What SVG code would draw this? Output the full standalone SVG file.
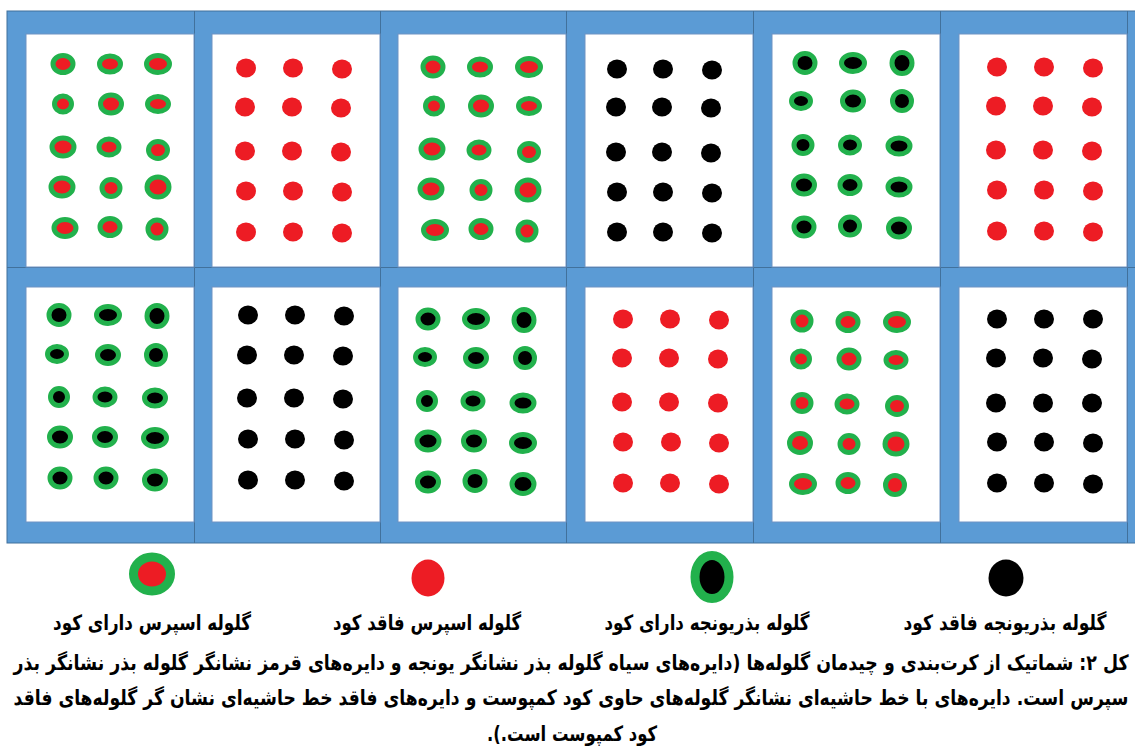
<svg xmlns="http://www.w3.org/2000/svg" width="1135" height="753" viewBox="0 0 1135 753">
<style>
.frame{fill:#5b9bd5;stroke:#41719c;stroke-width:1}
.plot{fill:#ffffff;stroke:#6f93c4;stroke-width:1}
.sep{stroke:#41719c;stroke-width:1;fill:none}
.gr{fill:#ed1c24;stroke:#22b14c;stroke-width:5}
.gb{fill:#000000;stroke:#22b14c;stroke-width:5}
.r{fill:#ed1c24}
.b{fill:#000000}
.lbl{font-family:"DejaVu Sans",sans-serif;font-weight:bold;font-size:16.8px;fill:#000}
.cap{font-family:"DejaVu Sans",sans-serif;font-weight:bold;font-size:17.2px;fill:#000}
</style>
<rect width="1135" height="753" fill="#ffffff"/>
<g id="frame">
<rect class="frame" x="7" y="11" width="1135" height="532"/>
<path class="sep" d="M194.5 11V543M380.5 11V543M566.5 11V543M753.5 11V543M940.5 11V543M1127.5 11V543M7 267.5H1135"/>
</g>
<g id="plot-r1c1">
<rect class="plot" x="26" y="34" width="168" height="233"/>
<ellipse class="gr" cx="63" cy="64" rx="10" ry="8.5"/><ellipse class="gr" cx="110" cy="64" rx="10.5" ry="8"/><ellipse class="gr" cx="158" cy="64" rx="11.5" ry="8.5"/>
<ellipse class="gr" cx="63" cy="104" rx="8.5" ry="8"/><ellipse class="gr" cx="111" cy="104" rx="10.5" ry="9"/><ellipse class="gr" cx="158" cy="104" rx="10.5" ry="7.5"/>
<ellipse class="gr" cx="63" cy="147" rx="11" ry="9"/><ellipse class="gr" cx="109" cy="147" rx="10" ry="8"/><ellipse class="gr" cx="158" cy="150" rx="9.5" ry="8.5"/>
<ellipse class="gr" cx="62" cy="187" rx="11" ry="9"/><ellipse class="gr" cx="111" cy="188" rx="9" ry="8.5"/><ellipse class="gr" cx="158" cy="187" rx="11" ry="10"/>
<ellipse class="gr" cx="65" cy="228" rx="11" ry="8.5"/><ellipse class="gr" cx="110" cy="227" rx="10" ry="8.5"/><ellipse class="gr" cx="157" cy="229" rx="9" ry="9"/>
</g>
<g id="plot-r1c2">
<rect class="plot" x="212" y="34" width="168" height="233"/>
<ellipse class="r" cx="246" cy="68" rx="10" ry="9.5"/><ellipse class="r" cx="293" cy="68" rx="10" ry="9.5"/><ellipse class="r" cx="342" cy="69" rx="10" ry="9.5"/>
<ellipse class="r" cx="245" cy="107" rx="10" ry="9.5"/><ellipse class="r" cx="292" cy="107" rx="10" ry="9.5"/><ellipse class="r" cx="341" cy="108" rx="10" ry="9.5"/>
<ellipse class="r" cx="245" cy="151" rx="10" ry="9.5"/><ellipse class="r" cx="292" cy="151" rx="10" ry="9.5"/><ellipse class="r" cx="341" cy="152" rx="10" ry="9.5"/>
<ellipse class="r" cx="246" cy="191" rx="10" ry="9.5"/><ellipse class="r" cx="293" cy="191" rx="10" ry="9.5"/><ellipse class="r" cx="342" cy="192" rx="10" ry="9.5"/>
<ellipse class="r" cx="246" cy="232" rx="10" ry="9.5"/><ellipse class="r" cx="293" cy="232" rx="10" ry="9.5"/><ellipse class="r" cx="342" cy="233" rx="10" ry="9.5"/>
</g>
<g id="plot-r1c3">
<rect class="plot" x="398" y="34" width="168" height="233"/>
<ellipse class="gr" cx="433" cy="67" rx="10" ry="9"/><ellipse class="gr" cx="480" cy="67" rx="10.5" ry="8"/><ellipse class="gr" cx="529" cy="67" rx="11.5" ry="8.5"/>
<ellipse class="gr" cx="434" cy="106" rx="8.5" ry="8"/><ellipse class="gr" cx="481" cy="106" rx="10.5" ry="9"/><ellipse class="gr" cx="529" cy="106" rx="10.5" ry="7.5"/>
<ellipse class="gr" cx="432" cy="149" rx="11" ry="9"/><ellipse class="gr" cx="479" cy="150" rx="10" ry="8"/><ellipse class="gr" cx="529" cy="152" rx="9.5" ry="8.5"/>
<ellipse class="gr" cx="431" cy="189" rx="11" ry="9"/><ellipse class="gr" cx="481" cy="190" rx="9" ry="8.5"/><ellipse class="gr" cx="528" cy="190" rx="11" ry="10"/>
<ellipse class="gr" cx="435" cy="230" rx="11.5" ry="8.5"/><ellipse class="gr" cx="481" cy="229" rx="10" ry="8.5"/><ellipse class="gr" cx="527" cy="231" rx="9" ry="9"/>
</g>
<g id="plot-r1c4">
<rect class="plot" x="585" y="34" width="168" height="233"/>
<ellipse class="b" cx="617" cy="69" rx="10" ry="9.5"/><ellipse class="b" cx="663" cy="69" rx="10" ry="9.5"/><ellipse class="b" cx="712" cy="70" rx="10" ry="9.5"/>
<ellipse class="b" cx="616" cy="107" rx="10" ry="9.5"/><ellipse class="b" cx="662" cy="107" rx="10" ry="9.5"/><ellipse class="b" cx="711" cy="108" rx="10" ry="9.5"/>
<ellipse class="b" cx="616" cy="152" rx="10" ry="9.5"/><ellipse class="b" cx="662" cy="152" rx="10" ry="9.5"/><ellipse class="b" cx="711" cy="153" rx="10" ry="9.5"/>
<ellipse class="b" cx="617" cy="192" rx="10" ry="9.5"/><ellipse class="b" cx="663" cy="192" rx="10" ry="9.5"/><ellipse class="b" cx="712" cy="193" rx="10" ry="9.5"/>
<ellipse class="b" cx="617" cy="232" rx="10" ry="9.5"/><ellipse class="b" cx="663" cy="232" rx="10" ry="9.5"/><ellipse class="b" cx="712" cy="233" rx="10" ry="9.5"/>
</g>
<g id="plot-r1c5">
<rect class="plot" x="772" y="34" width="168" height="233"/>
<ellipse class="gb" cx="805" cy="63" rx="10" ry="9.5"/><ellipse class="gb" cx="853" cy="63" rx="11.5" ry="8.5"/><ellipse class="gb" cx="902" cy="63" rx="10" ry="10.5"/>
<ellipse class="gb" cx="801" cy="101" rx="9.5" ry="7.5"/><ellipse class="gb" cx="853" cy="101" rx="10.5" ry="9"/><ellipse class="gb" cx="902" cy="101" rx="9.5" ry="9.5"/>
<ellipse class="gb" cx="803" cy="145" rx="9" ry="8.5"/><ellipse class="gb" cx="850" cy="145" rx="9.5" ry="8"/><ellipse class="gb" cx="899" cy="146" rx="11" ry="8"/>
<ellipse class="gb" cx="804" cy="185" rx="10.5" ry="9"/><ellipse class="gb" cx="850" cy="185" rx="10" ry="8.5"/><ellipse class="gb" cx="899" cy="187" rx="11" ry="8"/>
<ellipse class="gb" cx="804" cy="227" rx="10" ry="9"/><ellipse class="gb" cx="850" cy="226" rx="9.5" ry="9"/><ellipse class="gb" cx="899" cy="228" rx="10.5" ry="9"/>
</g>
<g id="plot-r1c6">
<rect class="plot" x="959" y="34" width="168" height="233"/>
<ellipse class="r" cx="997" cy="67" rx="10" ry="9.5"/><ellipse class="r" cx="1044" cy="67" rx="10" ry="9.5"/><ellipse class="r" cx="1093" cy="68" rx="10" ry="9.5"/>
<ellipse class="r" cx="996" cy="106" rx="10" ry="9.5"/><ellipse class="r" cx="1043" cy="106" rx="10" ry="9.5"/><ellipse class="r" cx="1092" cy="107" rx="10" ry="9.5"/>
<ellipse class="r" cx="996" cy="150" rx="10" ry="9.5"/><ellipse class="r" cx="1043" cy="150" rx="10" ry="9.5"/><ellipse class="r" cx="1092" cy="151" rx="10" ry="9.5"/>
<ellipse class="r" cx="997" cy="190" rx="10" ry="9.5"/><ellipse class="r" cx="1044" cy="190" rx="10" ry="9.5"/><ellipse class="r" cx="1093" cy="191" rx="10" ry="9.5"/>
<ellipse class="r" cx="997" cy="231" rx="10" ry="9.5"/><ellipse class="r" cx="1044" cy="231" rx="10" ry="9.5"/><ellipse class="r" cx="1093" cy="232" rx="10" ry="9.5"/>
</g>
<g id="plot-r2c1">
<rect class="plot" x="26" y="287" width="168" height="235"/>
<ellipse class="gb" cx="59" cy="315" rx="10" ry="9.5"/><ellipse class="gb" cx="108" cy="315" rx="11.5" ry="8.5"/><ellipse class="gb" cx="157" cy="316" rx="10" ry="10.5"/>
<ellipse class="gb" cx="57" cy="354" rx="9.5" ry="7.5"/><ellipse class="gb" cx="108" cy="355" rx="10.5" ry="8.5"/><ellipse class="gb" cx="156" cy="355" rx="9.5" ry="9.5"/>
<ellipse class="gb" cx="59" cy="397" rx="8.5" ry="8.5"/><ellipse class="gb" cx="105" cy="397" rx="10" ry="8"/><ellipse class="gb" cx="155" cy="398" rx="10.5" ry="8"/>
<ellipse class="gb" cx="60" cy="437" rx="10.5" ry="9"/><ellipse class="gb" cx="105" cy="437" rx="10.5" ry="8.5"/><ellipse class="gb" cx="155" cy="438" rx="11.5" ry="8.5"/>
<ellipse class="gb" cx="60" cy="478" rx="10" ry="9"/><ellipse class="gb" cx="106" cy="478" rx="10" ry="9"/><ellipse class="gb" cx="155" cy="480" rx="10.5" ry="9"/>
</g>
<g id="plot-r2c2">
<rect class="plot" x="212" y="287" width="168" height="235"/>
<ellipse class="b" cx="248" cy="315" rx="10" ry="9.5"/><ellipse class="b" cx="295" cy="315" rx="10" ry="9.5"/><ellipse class="b" cx="344" cy="316" rx="10" ry="9.5"/>
<ellipse class="b" cx="247" cy="355" rx="10" ry="9.5"/><ellipse class="b" cx="294" cy="355" rx="10" ry="9.5"/><ellipse class="b" cx="343" cy="356" rx="10" ry="9.5"/>
<ellipse class="b" cx="247" cy="398" rx="10" ry="9.5"/><ellipse class="b" cx="294" cy="398" rx="10" ry="9.5"/><ellipse class="b" cx="343" cy="399" rx="10" ry="9.5"/>
<ellipse class="b" cx="248" cy="439" rx="10" ry="9.5"/><ellipse class="b" cx="295" cy="439" rx="10" ry="9.5"/><ellipse class="b" cx="344" cy="440" rx="10" ry="9.5"/>
<ellipse class="b" cx="248" cy="480" rx="10" ry="9.5"/><ellipse class="b" cx="295" cy="480" rx="10" ry="9.5"/><ellipse class="b" cx="344" cy="481" rx="10" ry="9.5"/>
</g>
<g id="plot-r2c3">
<rect class="plot" x="398" y="287" width="168" height="235"/>
<ellipse class="gb" cx="428" cy="319" rx="10" ry="9"/><ellipse class="gb" cx="476" cy="319" rx="11.5" ry="8.5"/><ellipse class="gb" cx="524" cy="320" rx="10" ry="10.5"/>
<ellipse class="gb" cx="425" cy="357" rx="9.5" ry="7.5"/><ellipse class="gb" cx="476" cy="358" rx="10.5" ry="8.5"/><ellipse class="gb" cx="525" cy="358" rx="9.5" ry="9.5"/>
<ellipse class="gb" cx="427" cy="401" rx="8.5" ry="8.5"/><ellipse class="gb" cx="473" cy="401" rx="10" ry="8"/><ellipse class="gb" cx="523" cy="403" rx="11" ry="8"/>
<ellipse class="gb" cx="428" cy="441" rx="11" ry="9"/><ellipse class="gb" cx="474" cy="441" rx="10.5" ry="9"/><ellipse class="gb" cx="523" cy="443" rx="11.5" ry="8.5"/>
<ellipse class="gb" cx="428" cy="482" rx="10.5" ry="9"/><ellipse class="gb" cx="475" cy="481" rx="10" ry="9.5"/><ellipse class="gb" cx="523" cy="484" rx="11" ry="9.5"/>
</g>
<g id="plot-r2c4">
<rect class="plot" x="585" y="287" width="168" height="235"/>
<ellipse class="r" cx="623" cy="319" rx="10" ry="9.5"/><ellipse class="r" cx="670" cy="319" rx="10" ry="9.5"/><ellipse class="r" cx="719" cy="320" rx="10" ry="9.5"/>
<ellipse class="r" cx="622" cy="358" rx="10" ry="9.5"/><ellipse class="r" cx="669" cy="358" rx="10" ry="9.5"/><ellipse class="r" cx="718" cy="359" rx="10" ry="9.5"/>
<ellipse class="r" cx="622" cy="402" rx="10" ry="9.5"/><ellipse class="r" cx="669" cy="402" rx="10" ry="9.5"/><ellipse class="r" cx="718" cy="403" rx="10" ry="9.5"/>
<ellipse class="r" cx="623" cy="442" rx="10" ry="9.5"/><ellipse class="r" cx="671" cy="442" rx="10" ry="9.5"/><ellipse class="r" cx="719" cy="443" rx="10" ry="9.5"/>
<ellipse class="r" cx="623" cy="483" rx="10" ry="9.5"/><ellipse class="r" cx="670" cy="483" rx="10" ry="9.5"/><ellipse class="r" cx="719" cy="484" rx="10" ry="9.5"/>
</g>
<g id="plot-r2c5">
<rect class="plot" x="772" y="287" width="168" height="235"/>
<ellipse class="gr" cx="802" cy="321" rx="9" ry="9"/><ellipse class="gr" cx="848" cy="322" rx="10" ry="8.5"/><ellipse class="gr" cx="897" cy="322" rx="11.5" ry="8.5"/>
<ellipse class="gr" cx="801" cy="359" rx="8.5" ry="8"/><ellipse class="gr" cx="849" cy="359" rx="10" ry="9"/><ellipse class="gr" cx="896" cy="360" rx="10" ry="7.5"/>
<ellipse class="gr" cx="802" cy="403" rx="9" ry="8.5"/><ellipse class="gr" cx="847" cy="404" rx="10" ry="8"/><ellipse class="gr" cx="897" cy="406" rx="9.5" ry="8.5"/>
<ellipse class="gr" cx="800" cy="443" rx="10.5" ry="9.5"/><ellipse class="gr" cx="849" cy="444" rx="9" ry="8.5"/><ellipse class="gr" cx="896" cy="444" rx="11" ry="10"/>
<ellipse class="gr" cx="803" cy="484" rx="11.5" ry="8.5"/><ellipse class="gr" cx="848" cy="483" rx="10" ry="8.5"/><ellipse class="gr" cx="895" cy="485" rx="9.5" ry="9.5"/>
</g>
<g id="plot-r2c6">
<rect class="plot" x="959" y="287" width="168" height="235"/>
<ellipse class="b" cx="997" cy="319" rx="10" ry="9.5"/><ellipse class="b" cx="1044" cy="319" rx="10" ry="9.5"/><ellipse class="b" cx="1093" cy="319" rx="10" ry="9.5"/>
<ellipse class="b" cx="996" cy="358" rx="10" ry="9.5"/><ellipse class="b" cx="1043" cy="358" rx="10" ry="9.5"/><ellipse class="b" cx="1092" cy="359" rx="10" ry="9.5"/>
<ellipse class="b" cx="996" cy="403" rx="10" ry="9.5"/><ellipse class="b" cx="1043" cy="403" rx="10" ry="9.5"/><ellipse class="b" cx="1092" cy="403" rx="10" ry="9.5"/>
<ellipse class="b" cx="997" cy="442" rx="10" ry="9.5"/><ellipse class="b" cx="1044" cy="442" rx="10" ry="9.5"/><ellipse class="b" cx="1093" cy="443" rx="10" ry="9.5"/>
<ellipse class="b" cx="997" cy="483" rx="10" ry="9.5"/><ellipse class="b" cx="1044" cy="483" rx="10" ry="9.5"/><ellipse class="b" cx="1093" cy="484" rx="10" ry="9.5"/>
</g>
<g id="legend-sainfoin-fert">
<ellipse cx="152" cy="574" rx="18.5" ry="17" fill="#ed1c24" stroke="#22b14c" stroke-width="9"/>
<text class="lbl" transform="translate(152 630) scale(1 1.25)" text-anchor="middle" direction="rtl" textLength="198" lengthAdjust="spacingAndGlyphs">گلوله اسپرس دارای کود</text>
</g>
<g id="legend-sainfoin-nofert">
<ellipse class="r" cx="428" cy="578" rx="16.5" ry="18.5"/>
<text class="lbl" transform="translate(427 630) scale(1 1.25)" text-anchor="middle" direction="rtl" textLength="188" lengthAdjust="spacingAndGlyphs">گلوله اسپرس فاقد کود</text>
</g>
<g id="legend-alfalfa-fert">
<ellipse cx="712" cy="577" rx="17" ry="21.5" fill="#000" stroke="#22b14c" stroke-width="9"/>
<text class="lbl" transform="translate(707 630) scale(1 1.25)" text-anchor="middle" direction="rtl" textLength="205" lengthAdjust="spacingAndGlyphs">گلوله بذریونجه دارای کود</text>
</g>
<g id="legend-alfalfa-nofert">
<ellipse class="b" cx="1006" cy="578" rx="17.5" ry="18.5"/>
<text class="lbl" transform="translate(1005 630) scale(1 1.25)" text-anchor="middle" direction="rtl" textLength="203" lengthAdjust="spacingAndGlyphs">گلوله بذریونجه فاقد کود</text>
</g>
<g id="caption">
<text class="cap" transform="translate(571 670) scale(1 1.22)" text-anchor="middle" direction="rtl" textLength="1115" lengthAdjust="spacingAndGlyphs">کل ۲: شماتیک از کرت&#8204;بندی و چیدمان گلوله&#8204;ها (دایره&#8204;های سیاه گلوله بذر نشانگر یونجه و دایره&#8204;های قرمز نشانگر گلوله بذر نشانگر بذر</text>
<text class="cap" transform="translate(571 705) scale(1 1.22)" text-anchor="middle" direction="rtl" textLength="1115" lengthAdjust="spacingAndGlyphs">سپرس است. دایره&#8204;های با خط حاشیه&#8204;ای نشانگر گلوله&#8204;های حاوی کود کمپوست و دایره&#8204;های فاقد خط حاشیه&#8204;ای نشان گر گلوله&#8204;های فاقد</text>
<text class="cap" transform="translate(572 741) scale(1 1.22)" text-anchor="middle" direction="rtl" textLength="170" lengthAdjust="spacingAndGlyphs">کود کمپوست است.).</text>
</g>
</svg>
